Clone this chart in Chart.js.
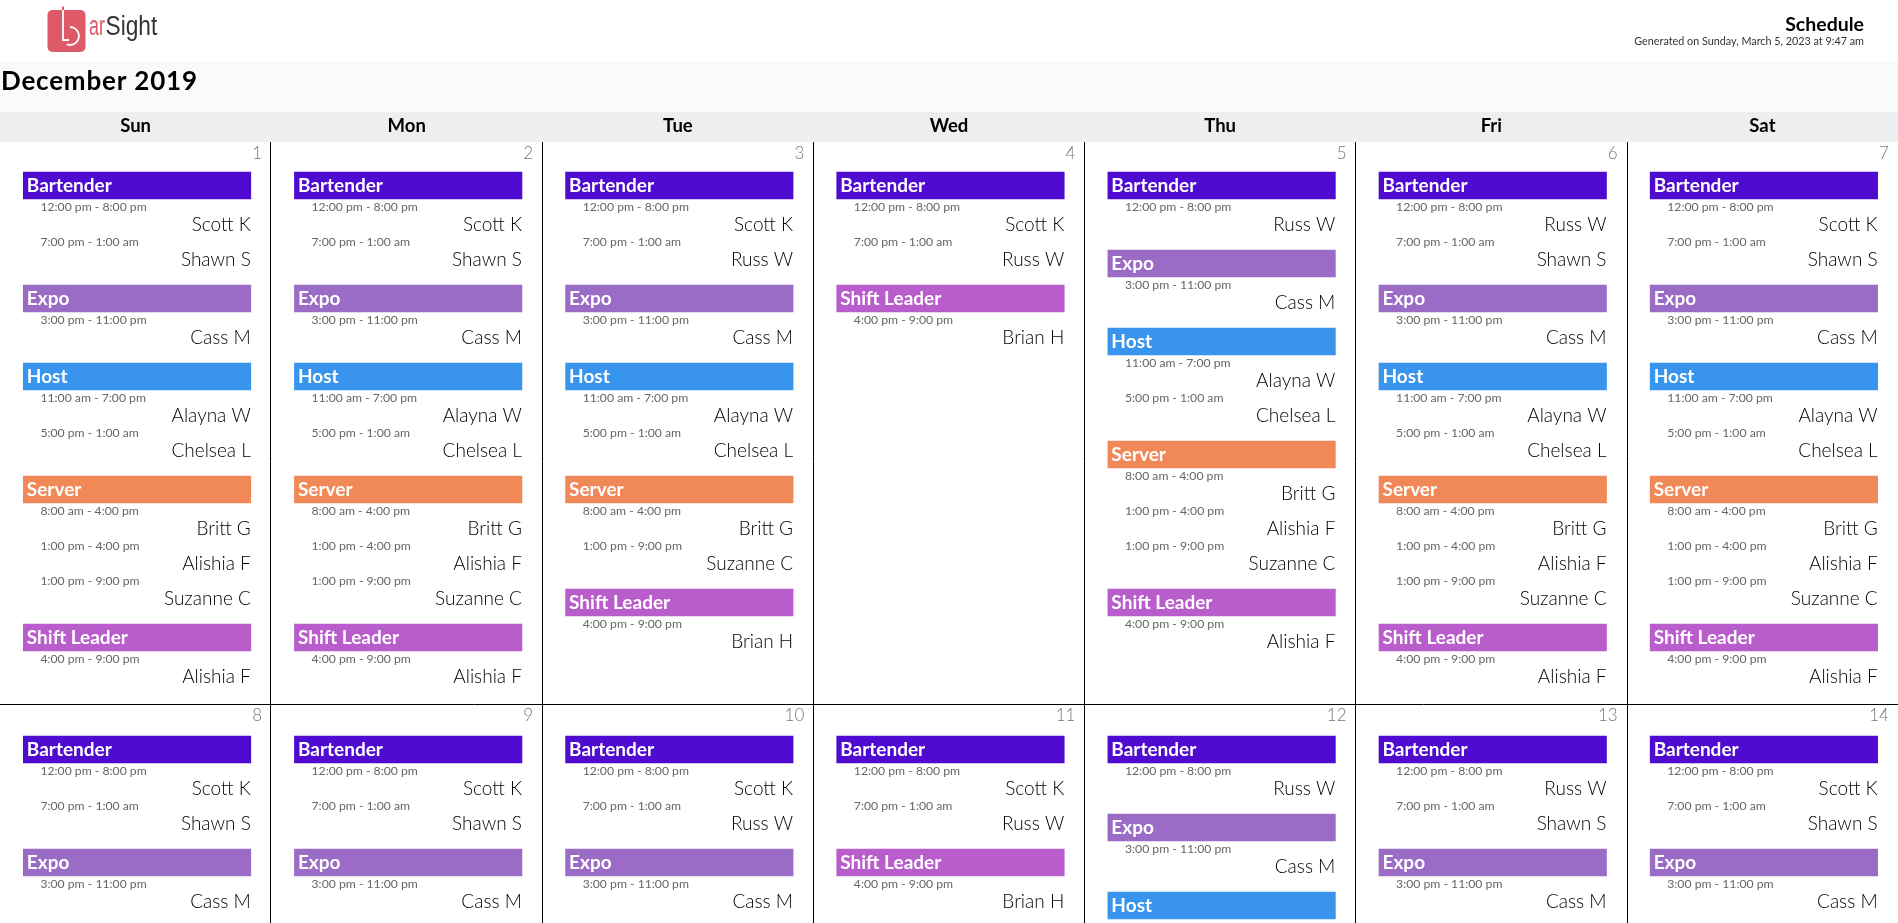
<!DOCTYPE html>
<html><head><meta charset="utf-8">
<style>html,body{margin:0;padding:0;background:#fff;overflow:hidden}canvas{display:block}</style>
<script src="https://cdn.jsdelivr.net/npm/chart.js@4"></script>
</head><body><canvas id="c" width="1898" height="923"></canvas>
<script>
const reportMonth = 'December 2019';
const reportTitle = 'Schedule';
const reportStamp = 'Generated on Sunday, March 5, 2023 at 9:47 am';
const weekdays = ['Sun','Mon','Tue','Wed','Thu','Fri','Sat'];
const roles = ['Bartender','Expo','Host','Server','Shift Leader'];
const roleColors = ['#4f0cd0','#9b6cc6','#3894ec','#f08858','#b95ccc'];

// one shift = [role index, time, person]
const barA = [0,'12:00 pm - 8:00 pm','Scott K'];
const barR = [0,'12:00 pm - 8:00 pm','Russ W'];
const barS = [0,'7:00 pm - 1:00 am','Shawn S'];
const barW = [0,'7:00 pm - 1:00 am','Russ W'];
const expo = [1,'3:00 pm - 11:00 pm','Cass M'];
const hostA = [2,'11:00 am - 7:00 pm','Alayna W'];
const hostC = [2,'5:00 pm - 1:00 am','Chelsea L'];
const servB = [3,'8:00 am - 4:00 pm','Britt G'];
const servA = [3,'1:00 pm - 4:00 pm','Alishia F'];
const servS = [3,'1:00 pm - 9:00 pm','Suzanne C'];
const leadA = [4,'4:00 pm - 9:00 pm','Alishia F'];
const leadB = [4,'4:00 pm - 9:00 pm','Brian H'];

const week1 = [
  [barA,barS,expo,hostA,hostC,servB,servA,servS,leadA],
  [barA,barS,expo,hostA,hostC,servB,servA,servS,leadA],
  [barA,barW,expo,hostA,hostC,servB,servS,leadB],
  [barA,barW,leadB],
  [barR,expo,hostA,hostC,servB,servA,servS,leadA],
  [barR,barS,expo,hostA,hostC,servB,servA,servS,leadA],
  [barA,barS,expo,hostA,hostC,servB,servA,servS,leadA]
];
const week2 = [
  [barA,barS,expo],
  [barA,barS,expo],
  [barA,barW,expo],
  [barA,barW,leadB],
  [barR,expo,hostA],
  [barR,barS,expo],
  [barA,barS,expo]
];

// page layout
const W = 1898, H = 923, COLW = W / 7;
const columnRules = [270.4, 542.3, 813.4, 1084.4, 1355.4, 1627.3];
const weekTops = [172, 736], weekNumY = [154, 716], ruleY = 704.3;
const BAND = 27, PERSON = 35, GAP = 16, BL = 23.3, BR = 250.8;
const F = 'Lato, "Noto Sans", sans-serif';

// walk the schedule once: bands + text rows
const bandSets = roles.map(() => []);
const textRows = [];
[week1, week2].forEach((week, w) => week.forEach((day, d) => {
  let y = weekTops[w], cur = -1;
  day.forEach(s => {
    if (s[0] !== cur) {
      if (cur !== -1) y += GAP;
      cur = s[0];
      bandSets[cur].push({x:[d + BL/COLW, d + BR/COLW], y:y + BAND/2});
      textRows.push({kind:'band', d, y:y + BAND/2, t:roles[cur]});
      y += BAND;
    }
    if (y + 8 < H) {
      textRows.push({kind:'time', d, y:y + 8, t:s[1]});
      textRows.push({kind:'name', d, y:y + 24, t:s[2]});
    }
    y += PERSON;
  });
  textRows.push({kind:'num', d, y:weekNumY[w], t:String(w*7 + d + 1)});
}));

function txt(ctx, t, x, y, font, color, align, spacing){
  ctx.font = font; ctx.fillStyle = color; ctx.textAlign = align||'left';
  ctx.textBaseline = 'middle';
  ctx.letterSpacing = (spacing||0) + 'px';
  ctx.fillText(t, x, y);
  ctx.letterSpacing = '0px';
}

const pagePlugin = {
  id:'page',
  beforeDatasetsDraw(c){
    const {ctx} = c;
    ctx.save();
    ctx.fillStyle = '#fff';     ctx.fillRect(0, 0, W, 142);
    ctx.fillStyle = '#f3f3f3';  ctx.fillRect(0, 62, W, 1);
    ctx.fillStyle = '#fafafa';  ctx.fillRect(0, 63, W, 49);
    ctx.fillStyle = '#eeedf0';  ctx.fillRect(0, 112, W, 30);
    ctx.restore();
  },
  afterDatasetsDraw(c){
    const {ctx, scales:{x, y}} = c;
    ctx.save();
    // logo
    ctx.fillStyle = '#df5a68';
    ctx.beginPath(); ctx.roundRect(47.5, 10, 38, 42, 5); ctx.fill();
    ctx.fillRect(62, 6.5, 2, 4);
    ctx.strokeStyle = '#fff'; ctx.lineWidth = 1.8;
    ctx.beginPath(); ctx.moveTo(63, 10); ctx.lineTo(63, 40); ctx.lineTo(69, 40); ctx.stroke();
    ctx.beginPath(); ctx.arc(70, 36, 9, -Math.PI/2, 0.62*Math.PI); ctx.stroke();
    ctx.save(); ctx.translate(89, 28); ctx.scale(.66, 1);
    txt(ctx, 'ar', 0, 0, '27px "Liberation Sans"', '#df5a68');
    ctx.restore();
    ctx.save(); ctx.translate(105.5, 28); ctx.scale(.84, 1);
    txt(ctx, 'Sight', 0, 0, '27px "Liberation Sans"', '#333');
    ctx.restore();
    // heading
    txt(ctx, reportTitle, 1864, 25, '700 19.5px '+F, '#000', 'right');
    txt(ctx, reportStamp, 1864, 41.5, '10.8px '+F, '#333', 'right');
    txt(ctx, reportMonth, 1, 81.5, '700 26px '+F, '#000', 'left', .8);
    weekdays.forEach((n, i) => txt(ctx, n, x.getPixelForValue(i + .5), 126.5, '700 18.5px '+F, '#000', 'center'));
    // schedule text
    textRows.forEach(r => {
      const yp = y.getPixelForValue(r.y), xp = v => x.getPixelForValue(r.d + v/COLW);
      if (r.kind === 'band') txt(ctx, r.t, xp(BL + 3.5), yp + .5, '700 19px '+F, '#fff');
      if (r.kind === 'time') txt(ctx, r.t, xp(40.4), yp, '400 12.2px '+F, '#666');
      if (r.kind === 'name') txt(ctx, r.t, xp(BR), yp + 1.5, '300 19px '+F, '#000', 'right');
      if (r.kind === 'num')  txt(ctx, r.t, xp(262), yp, '300 17px '+F, '#777', 'right');
    });
    ctx.restore();
  }
};

new Chart(document.getElementById('c'), {
  type:'bar',
  data:{datasets: roles.map((r, i) => ({
    label:r, data:bandSets[i], backgroundColor:roleColors[i],
    barThickness:BAND, borderSkipped:false, borderWidth:0, grouped:false
  }))},
  options:{
    indexAxis:'y', responsive:false, animation:false, devicePixelRatio:1,
    layout:{padding:0},
    plugins:{legend:{display:false}, tooltip:{enabled:false}, title:{display:false}},
    scales:{
      x:{type:'linear', min:0, max:7, position:'top', offset:false,
         afterBuildTicks(s){ s.ticks = columnRules.map(v => ({value:v/COLW})); },
         ticks:{display:false}, border:{display:false},
         grid:{color:'#000', lineWidth:1, drawTicks:false, offset:false}},
      y:{type:'linear', min:0, max:H, reverse:true, offset:false,
         afterBuildTicks(s){ s.ticks = [{value:ruleY}]; },
         ticks:{display:false}, border:{display:false},
         grid:{color:'#000', lineWidth:1, drawTicks:false, offset:false}}
    }
  },
  plugins:[pagePlugin]
});
</script></body></html>
